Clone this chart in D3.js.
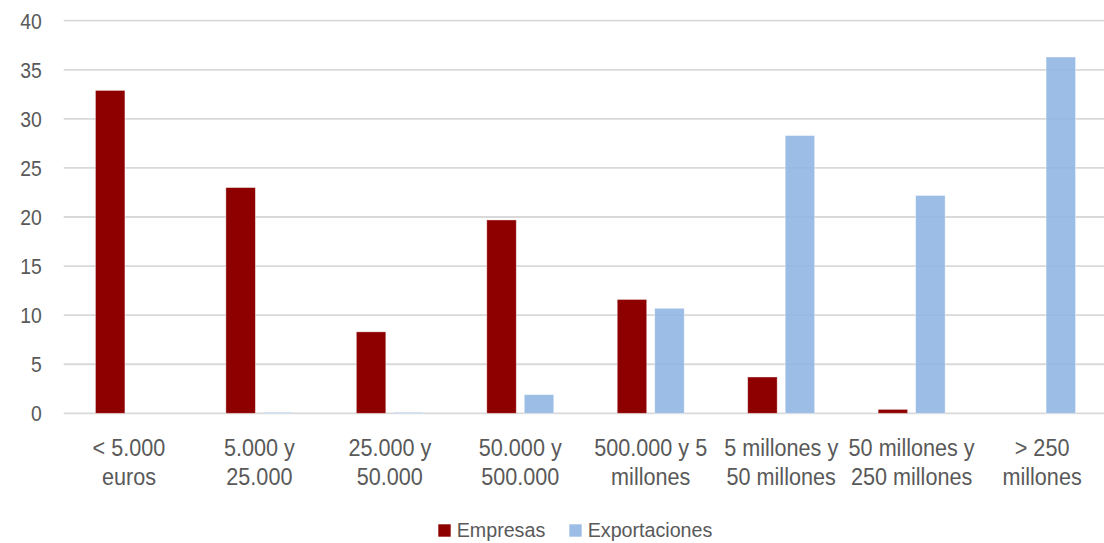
<!DOCTYPE html>
<html>
<head>
<meta charset="utf-8">
<script src="https://cdn.jsdelivr.net/npm/d3@7"></script>
<style>
  html, body { margin: 0; padding: 0; background: #ffffff; }
  svg { display: block; font-family: "Liberation Sans", Arial, sans-serif; }
</style>
</head>
<body>
<svg id="chart" width="1104" height="543"></svg>
<script>
const categories = ["< 5.000 euros", "5.000 y 25.000", "25.000 y 50.000", "50.000 y 500.000",
                    "500.000 y 5 millones", "5 millones y 50 millones", "50 millones y 250 millones", "> 250 millones"];
const categoryLines = [["< 5.000", "euros"], ["5.000 y", "25.000"], ["25.000 y", "50.000"], ["50.000 y", "500.000"],
                       ["500.000 y 5", "millones"], ["5 millones y", "50 millones"], ["50 millones y", "250 millones"], ["> 250", "millones"]];
const seriesNames = ["Empresas", "Exportaciones"];
const empresas = [32.9, 23.0, 8.3, 19.7, 11.6, 3.7, 0.4, 0.0];
const exportaciones = [0.0, 0.1, 0.1, 1.9, 10.7, 28.3, 22.2, 36.3];
const yTicks = [0, 5, 10, 15, 20, 25, 30, 35, 40];

const colors = { "Empresas": "#8e0000", "Exportaciones": "#8db4e2" };
const opac = { "Empresas": 1, "Exportaciones": 0.88 };
const textColor = "#595959";

const svg = d3.select("#chart");
const plotLeft = 63.7, plotRight = 1107.3, plotTop = 20.7, plotBottom = 413.3;

const x0 = d3.scaleBand().domain(categories).range([plotLeft, plotRight]).paddingInner(0).paddingOuter(0);
const bw = x0.bandwidth();
const x1 = d3.scaleBand().domain(seriesNames).range([bw / 2 - 33.5, bw / 2 + 33.5]).paddingInner(0.2133).paddingOuter(0);
const y = d3.scaleLinear().domain([0, 40]).range([plotBottom, plotTop]);

// gridlines
svg.append("g").selectAll("line").data(yTicks).join("line")
  .attr("x1", plotLeft).attr("x2", plotRight)
  .attr("y1", d => y(d)).attr("y2", d => y(d))
  .attr("stroke", "#d9d9d9").attr("stroke-width", 1.8);

// y labels
svg.append("g").selectAll("g").data(yTicks).join("g")
  .attr("transform", d => `translate(41.7,${y(d) + 7.8}) scale(0.88,1)`)
  .append("text")
  .attr("text-anchor", "end")
  .attr("font-size", 22)
  .attr("fill", textColor)
  .text(d => d);

// bars
const rows = categories.map((c, i) => ({ cat: c, vals: [
  { s: "Empresas", v: empresas[i] }, { s: "Exportaciones", v: exportaciones[i] }] }));

const groups = svg.append("g").selectAll("g").data(rows).join("g")
  .attr("transform", d => `translate(${x0(d.cat)},0)`);
groups.selectAll("rect").data(d => d.vals.filter(e => e.v > 0)).join("rect")
  .attr("x", d => x1(d.s))
  .attr("width", x1.bandwidth())
  .attr("y", d => y(d.v))
  .attr("height", d => y(0) - y(d.v))
  .attr("fill", d => colors[d.s])
  .attr("fill-opacity", d => opac[d.s])
  .attr("stroke", "#ffffff").attr("stroke-opacity", 0.5).attr("stroke-width", 0.8);

// category labels
const lab = svg.append("g").selectAll("g").data(categories).join("g")
  .attr("transform", d => `translate(${x0(d) + bw / 2},0)`);
lab.each(function(d, i) {
  const g = d3.select(this);
  categoryLines[i].forEach((ln, j) => {
    g.append("g").attr("transform", `translate(0,${455.7 + j * 29.3}) scale(0.9,1)`)
      .append("text").attr("text-anchor", "middle").attr("font-size", 24)
      .attr("fill", textColor).text(ln);
  });
});

// legend
const legendX = [438.3, 569.3];
const leg = svg.append("g").selectAll("g").data(seriesNames).join("g")
  .attr("transform", (d, i) => `translate(${legendX[i]},524.3)`);
leg.append("rect").attr("width", 12.4).attr("height", 12.4)
  .attr("fill", d => colors[d]).attr("fill-opacity", d => opac[d]);
leg.append("g").attr("transform", "translate(18.4,12.6) scale(0.96,1)")
  .append("text").attr("font-size", 20.5).attr("fill", textColor).text(d => d);
</script>
</body>
</html>
